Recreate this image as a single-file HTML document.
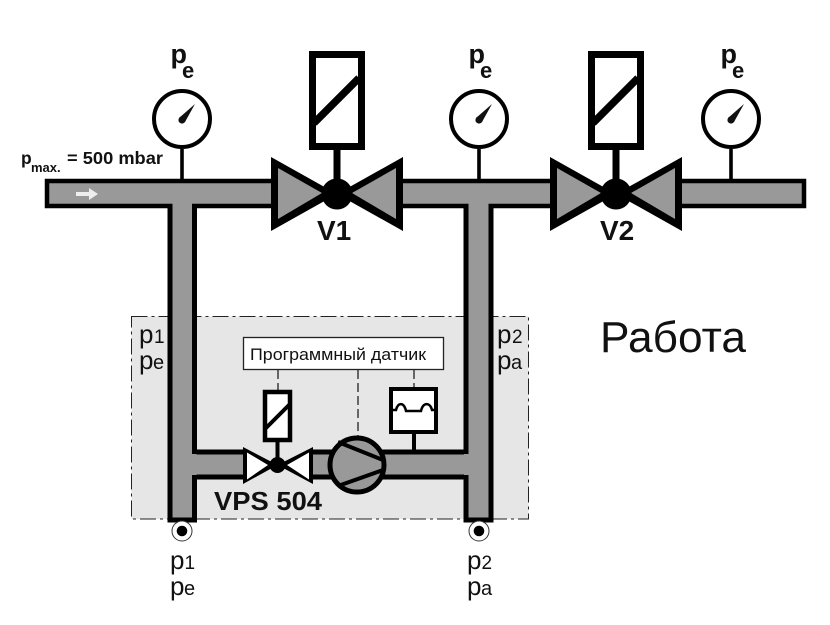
<!DOCTYPE html>
<html><head><meta charset="utf-8"><style>
html,body{margin:0;padding:0;background:#fff}
svg{display:block}
text{font-family:"Liberation Sans",sans-serif;fill:#111}
.b{font-weight:bold}
</style></head><body>
<svg width="830" height="625" viewBox="0 0 830 625" xmlns="http://www.w3.org/2000/svg">
<defs>
<g id="g"><circle r="28" fill="#fff" stroke="#000" stroke-width="4"/><path d="M-3,-1 L13,-15 L3,3 Z" fill="#111"/><circle cy="1" r="3.6" fill="#111"/><rect x="-1.800" y="30" width="3.600" height="31" fill="#000"/></g>
<g id="sol"><rect x="3.500" y="3.500" width="49" height="92" fill="#fff" stroke="#000" stroke-width="7"/><path d="M5,72 L50,27" stroke="#000" stroke-width="7.500" fill="none"/><rect x="24.500" y="99" width="7" height="32" fill="#000"/></g>
<g id="valve"><path d="M-66,-37 L0,0 L-66,37 Z M66,-37 L0,0 L66,37 Z" fill="#000"/><path d="M-59,-26 L-15,-1 L-59,25 Z M59,-26 L15,-1 L59,25 Z" fill="#999"/><circle r="15.500" fill="#000"/></g>
</defs>
<rect x="131.500" y="316.500" width="397" height="202.500" fill="#e6e6e6" stroke="#222" stroke-width="1" stroke-dasharray="16 4 3 4"/>
<path d="M47,181 H804 V206 H47 Z" fill="#999" stroke="#000" stroke-width="4.500"/>
<path d="M170,208 H194.500 V452 H466 V208 H491 V520 H466 V477 H194.500 V520 H170 Z" fill="#999" stroke="#000" stroke-width="5"/>
<rect x="172.500" y="200" width="19.500" height="12" fill="#999"/>
<rect x="468.500" y="200" width="20" height="12" fill="#999"/>
<rect x="172.500" y="454" width="24" height="21" fill="#999"/>
<rect x="464" y="454" width="24.500" height="21" fill="#999"/>
<rect x="272" y="175" width="130" height="38" fill="#fff"/>
<rect x="551" y="175" width="130" height="38" fill="#fff"/>
<rect x="243" y="446" width="70" height="38" fill="#e6e6e6"/>
<path d="M76,192 H89 V188 L98,194 L89,200 V196 H76 Z" fill="#eee"/>
<use href="#g" x="182" y="119"/>
<use href="#g" x="479" y="119"/>
<use href="#g" x="731" y="119"/>
<use href="#sol" x="309" y="51"/>
<use href="#sol" x="588" y="51"/>
<use href="#valve" x="337" y="194"/>
<use href="#valve" x="616" y="194"/>
<text x="170.500" y="63" class="b" font-size="27">p</text><text x="182" y="78" class="b" font-size="22">e</text>
<text x="468.500" y="63" class="b" font-size="27">p</text><text x="480" y="78" class="b" font-size="22">e</text>
<text x="720.500" y="63" class="b" font-size="27">p</text><text x="732" y="78" class="b" font-size="22">e</text>
<text x="21" y="164" class="b" font-size="17.500">p</text><text x="31" y="172" class="b" font-size="13">max.</text><text x="67" y="164" class="b" font-size="17.500" textLength="96" lengthAdjust="spacingAndGlyphs">= 500 mbar</text>
<text x="317" y="240" class="b" font-size="28">V1</text>
<text x="600" y="240" class="b" font-size="28">V2</text>
<text x="600" y="352" font-size="44" textLength="146" lengthAdjust="spacingAndGlyphs">Работа</text>
<rect x="243.500" y="337.500" width="200" height="32" fill="#fff" stroke="#222" stroke-width="1.300"/>
<text x="250" y="360" font-size="16.500" textLength="176" lengthAdjust="spacingAndGlyphs">Программный датчик</text>
<path d="M278,370 V390 M358,370 V436 M414,370 V387" stroke="#222" stroke-width="1.300" stroke-dasharray="9 4" fill="none"/>
<rect x="265" y="392" width="25" height="48" fill="#fff" stroke="#000" stroke-width="4.500"/>
<path d="M265,429 L290,404" stroke="#000" stroke-width="4" fill="none"/>
<rect x="275.500" y="440" width="4" height="18" fill="#000"/>
<path d="M243,447 L277.500,465 L243,484 Z M313,447 L277.500,465 L313,484 Z" fill="#000"/>
<path d="M247,452.500 L268,465 L247,479.500 Z M309,452.500 L287,465 L309,479.500 Z" fill="#fff"/>
<circle cx="277.500" cy="465" r="8" fill="#000"/>
<rect x="391" y="389" width="45" height="43" fill="#fff" stroke="#000" stroke-width="4"/>
<path d="M393,410 H396 C398,402 404,402 406,411 H421 C423,402 430,402 432,410 H435" stroke="#000" stroke-width="2.500" fill="none"/>
<rect x="412" y="432" width="4" height="19" fill="#000"/>
<circle cx="357" cy="465" r="27" fill="#999" stroke="#000" stroke-width="5"/>
<path d="M338,442 L383,460 M338,486 L383,470" stroke="#000" stroke-width="4" fill="none"/>
<text x="214" y="510" class="b" font-size="25.500" textLength="108" lengthAdjust="spacingAndGlyphs">VPS 504</text>
<circle cx="182" cy="531" r="10" fill="#fff" stroke="#333" stroke-width="1"/><circle cx="182" cy="531" r="5.300" fill="#000"/>
<circle cx="479" cy="531" r="10" fill="#fff" stroke="#333" stroke-width="1"/><circle cx="479" cy="531" r="5.300" fill="#000"/>
<text x="139" y="343" font-size="26">p</text><text x="154" y="343" font-size="19">1</text>
<text x="139" y="369" font-size="26">p</text><text x="153" y="369" font-size="20">e</text>
<text x="497" y="343" font-size="26">p</text><text x="512" y="343" font-size="19">2</text>
<text x="497" y="369" font-size="26">p</text><text x="511" y="369" font-size="20">a</text>
<text x="170" y="569" font-size="26">p</text><text x="184.500" y="569" font-size="19">1</text>
<text x="170" y="595" font-size="26">p</text><text x="184" y="595" font-size="20">e</text>
<text x="467" y="569" font-size="26">p</text><text x="481.500" y="569" font-size="19">2</text>
<text x="467" y="595" font-size="26">p</text><text x="481" y="595" font-size="20">a</text>
</svg>
</body></html>
